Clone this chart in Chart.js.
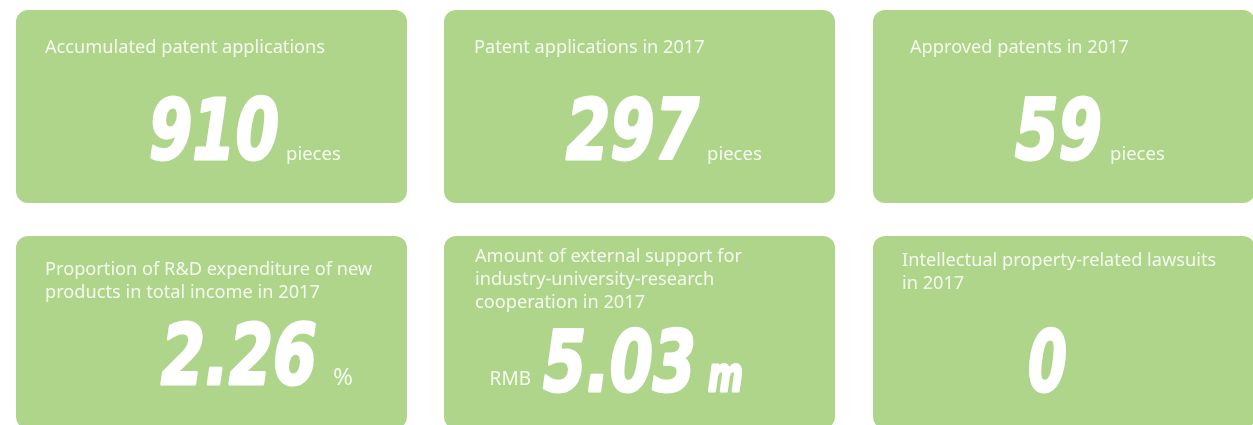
<!DOCTYPE html>
<html>
<head>
<meta charset="utf-8">
<script src="https://cdn.jsdelivr.net/npm/chart.js@4.4.0/dist/chart.umd.min.js"></script>
<style>
  html, body { margin: 0; padding: 0; background: #fff; }
  #wrap { width: 1253px; height: 425px; }
</style>
</head>
<body>
<div id="wrap"><canvas id="cards" width="1253" height="425"></canvas></div>
<script>
// card contents
const titles = [
  ['Accumulated patent applications'],
  ['Patent applications in 2017'],
  ['Approved patents in 2017'],
  ['Proportion of R&D expenditure of new', 'products in total income in 2017'],
  ['Amount of external support for', 'industry-university-research', 'cooperation in 2017'],
  ['Intellectual property-related lawsuits', 'in 2017']
];
const values = ['910', '297', '59', '2.26', '5.03', '0'];
const prefixes = ['', '', '', '', 'RMB', ''];
const units = ['pieces', 'pieces', 'pieces', '%', 'm', ''];

// layout
const cardX = [16, 444, 873];
const cardW = [391, 391, 382];
const cardY = [10, 236];
const cardH = 193;
const titleX = [45, 474, 910, 45, 475, 902];
const titleBase = [53, 53, 53, 275, 262, 266];
const valueX = [149, 566, 1015, 161, 543, 1028];
const valueW = [130, 133, 87, 156, 153, 39];
const valueBase = [159, 159, 159, 384, 391, 391];
const unitGap = [8, 9, 9, 16, 12, 0];

const green = '#aed589';
const lightText = '#f5faf0';
const titleFont = '18.2px "Noto Sans", "Open Sans", sans-serif';
const numFamily = '"DejaVu Sans", sans-serif';

// heavy italic figure, squeezed to a given width
function heavyText(ctx, text, x, y, width, size) {
  ctx.font = 'italic bold ' + size + 'px ' + numFamily;
  const sx = width / ctx.measureText(text).width;
  ctx.save();
  ctx.translate(x, y);
  ctx.scale(sx, 1);
  ctx.fillStyle = '#ffffff';
  ctx.strokeStyle = '#ffffff';
  ctx.lineJoin = 'round';
  ctx.lineWidth = 3;
  ctx.fillText(text, 0, 0);
  ctx.strokeText(text, 0, 0);
  ctx.restore();
}

const cardPlugin = {
  id: 'cards',
  afterDraw(chart) {
    const ctx = chart.ctx;
    ctx.save();
    values.forEach((v, i) => {
      const col = i % 3, row = Math.floor(i / 3);
      ctx.fillStyle = green;
      ctx.beginPath();
      ctx.roundRect(cardX[col], cardY[row], cardW[col], cardH, 12);
      ctx.fill();

      ctx.fillStyle = lightText;
      ctx.font = titleFont;
      ctx.textBaseline = 'alphabetic';
      ctx.textAlign = 'left';
      titles[i].forEach((line, j) => {
        ctx.fillText(line, titleX[i], titleBase[i] + j * 23);
      });

      heavyText(ctx, v, valueX[i], valueBase[i], valueW[i], 84);

      if (prefixes[i]) {
        ctx.font = '19px "Noto Sans", sans-serif';
        ctx.fillStyle = lightText;
        ctx.textAlign = 'right';
        ctx.fillText(prefixes[i], valueX[i] - 12, valueBase[i] - 6);
        ctx.textAlign = 'left';
      }
      if (units[i]) {
        const ux = valueX[i] + valueW[i] + unitGap[i];
        if (units[i] === 'm') {
          heavyText(ctx, 'm', ux, valueBase[i], 35, 48);
        } else if (units[i] === '%') {
          ctx.font = '24px "Noto Sans", sans-serif';
          ctx.fillStyle = lightText;
          ctx.fillText(units[i], ux, valueBase[i] + 1);
        } else {
          ctx.font = '18.5px "Noto Sans", sans-serif';
          ctx.fillStyle = lightText;
          ctx.fillText(units[i], ux - 1, valueBase[i] + 1);
        }
      }
    });
    ctx.restore();
  }
};

new Chart(document.getElementById('cards'), {
  type: 'bar',
  data: { labels: values, datasets: [{ data: [], backgroundColor: green }] },
  options: {
    responsive: false,
    animation: false,
    layout: { padding: 0 },
    plugins: { legend: { display: false }, tooltip: { enabled: false } },
    scales: { x: { display: false }, y: { display: false } }
  },
  plugins: [cardPlugin]
});
</script>
</body>
</html>
